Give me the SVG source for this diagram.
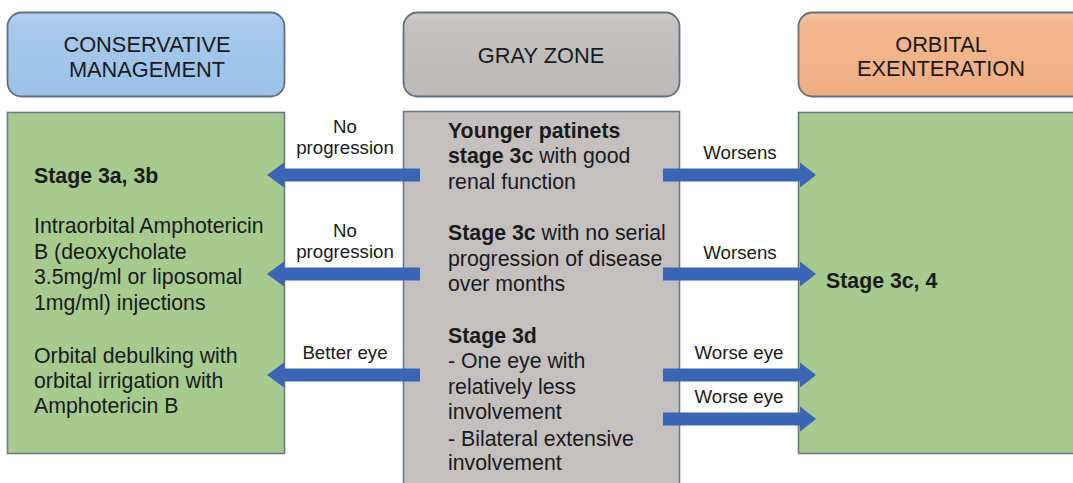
<svg xmlns="http://www.w3.org/2000/svg" width="1073" height="483" viewBox="0 0 1073 483">
<defs>
<linearGradient id="gBlue" x1="0" y1="0" x2="0" y2="1">
<stop offset="0" stop-color="#b4d3f1"/><stop offset="0.15" stop-color="#a6c9ec"/><stop offset="1" stop-color="#9cc2e8"/>
</linearGradient>
<linearGradient id="gGray" x1="0" y1="0" x2="0" y2="1">
<stop offset="0" stop-color="#d0cdcd"/><stop offset="0.15" stop-color="#c4c0c0"/><stop offset="1" stop-color="#bdb9b9"/>
</linearGradient>
<linearGradient id="gOrange" x1="0" y1="0" x2="0" y2="1">
<stop offset="0" stop-color="#f8c6a2"/><stop offset="0.15" stop-color="#f5b78d"/><stop offset="1" stop-color="#f1ae84"/>
</linearGradient>
</defs>
<style>
.hdr{stroke:#667080;stroke-width:1.8}
.body{stroke:#6e7888;stroke-width:1.6}
.green{fill:#a7ca8e}
.grayb{fill:#c4c0c0}
.t{font-family:"Liberation Sans",Arial,sans-serif;fill:#1a1a1a}
.h{font-size:21.8px;text-anchor:middle}
.b{font-size:21.3px}
.bold{font-weight:bold}
.lbl{font-size:18.7px;text-anchor:middle}
.arrow{fill:#3b64b4}
</style>
<rect width="1073" height="483" fill="#ffffff"/>

<g id="conservative-header">
<rect class="hdr" x="7.5" y="12.5" width="277" height="84" rx="14" fill="url(#gBlue)"/>
<text class="t h" x="147" y="52">CONSERVATIVE</text>
<text class="t h" x="147" y="77">MANAGEMENT</text>
</g>

<g id="gray-header">
<rect class="hdr" x="403.5" y="12.5" width="276" height="84" rx="14" fill="url(#gGray)"/>
<text class="t h" x="541" y="63">GRAY ZONE</text>
</g>

<g id="orbital-header">
<rect class="hdr" x="798.5" y="12.5" width="290" height="84" rx="14" fill="url(#gOrange)"/>
<text class="t h" x="941" y="52">ORBITAL</text>
<text class="t h" x="941" y="76">EXENTERATION</text>
</g>

<g id="conservative-body">
<rect class="body green" x="7.5" y="112.5" width="277" height="341"/>
<text class="t b bold" x="34" y="183">Stage 3a, 3b</text>
<text class="t b" x="34" y="233">Intraorbital Amphotericin</text>
<text class="t b" x="34" y="259">B (deoxycholate</text>
<text class="t b" x="34" y="284">3.5mg/ml or liposomal</text>
<text class="t b" x="34" y="310">1mg/ml) injections</text>
<text class="t b" x="34" y="363">Orbital debulking with</text>
<text class="t b" x="34" y="388">orbital irrigation with</text>
<text class="t b" x="34" y="413">Amphotericin B</text>
</g>

<g id="gray-body">
<rect class="body grayb" x="403.5" y="111.5" width="276" height="385"/>
<text class="t b" x="448" y="138"><tspan class="bold">Younger patinets</tspan></text>
<text class="t b" x="448" y="163"><tspan class="bold">stage 3c</tspan> with good</text>
<text class="t b" x="448" y="189">renal function</text>
<text class="t b" x="448" y="240"><tspan class="bold">Stage 3c</tspan> with no serial</text>
<text class="t b" x="448" y="266">progression of disease</text>
<text class="t b" x="448" y="291">over months</text>
<text class="t b bold" x="448" y="343">Stage 3d</text>
<text class="t b" x="448" y="368">- One eye with</text>
<text class="t b" x="448" y="394">relatively less</text>
<text class="t b" x="448" y="419">involvement</text>
<text class="t b" x="448" y="446">- Bilateral extensive</text>
<text class="t b" x="448" y="470">involvement</text>
</g>

<g id="orbital-body">
<rect class="body green" x="798.5" y="112.5" width="290" height="341"/>
<text class="t b bold" x="826" y="288">Stage 3c, 4</text>
</g>

<g id="connectors">
<polygon class="arrow" points="420,168.5 284,168.5 284,162.5 267,175 284,187.5 284,181.5 420,181.5"/>
<polygon class="arrow" points="420,267.5 284,267.5 284,261.5 267,274 284,286.5 284,280.5 420,280.5"/>
<polygon class="arrow" points="420,368.5 284,368.5 284,362.5 267,375 284,387.5 284,381.5 420,381.5"/>
<polygon class="arrow" points="663,168.5 800,168.5 800,162.5 816,175 800,187.5 800,181.5 663,181.5"/>
<polygon class="arrow" points="663,267.5 800,267.5 800,261.5 816,274 800,286.5 800,280.5 663,280.5"/>
<polygon class="arrow" points="663,368.5 800,368.5 800,362.5 816,375 800,387.5 800,381.5 663,381.5"/>
<polygon class="arrow" points="663,412.5 800,412.5 800,406.5 816,419 800,431.5 800,425.5 663,425.5"/>
<text class="t lbl" x="345" y="133">No</text>
<text class="t lbl" x="345" y="154">progression</text>
<text class="t lbl" x="345" y="237">No</text>
<text class="t lbl" x="345" y="258">progression</text>
<text class="t lbl" x="345" y="359">Better eye</text>
<text class="t lbl" x="740" y="159">Worsens</text>
<text class="t lbl" x="740" y="259">Worsens</text>
<text class="t lbl" x="739" y="359">Worse eye</text>
<text class="t lbl" x="739" y="403">Worse eye</text>
</g>
</svg>
